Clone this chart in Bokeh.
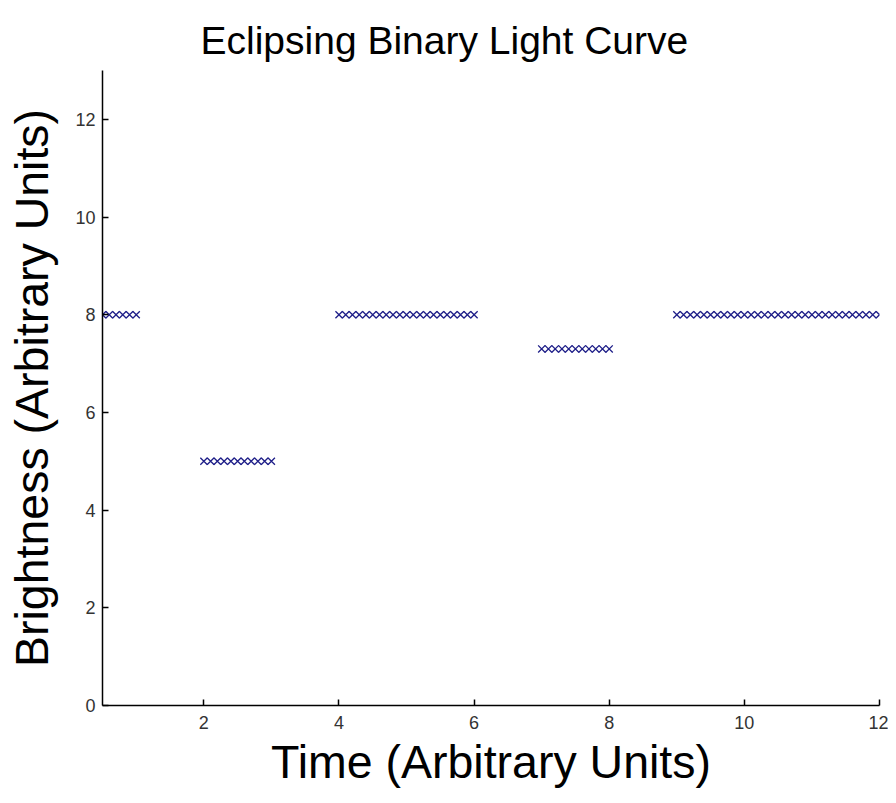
from bokeh.plotting import figure
from bokeh.models import FixedTicker, Range1d, ColumnDataSource
from bokeh.embed import file_html
from bokeh.resources import INLINE

# Data (time, brightness)
time_1 = [0.5, 0.6, 0.7, 0.8, 0.9, 1.0]
bright_1 = [8, 8, 8, 8, 8, 8]
time_2 = [2.0, 2.1, 2.2, 2.3, 2.4, 2.5, 2.6, 2.7, 2.8, 2.9, 3.0]
bright_2 = [5, 5, 5, 5, 5, 5, 5, 5, 5, 5, 5]
time_3 = [4.0, 4.1, 4.2, 4.3, 4.4, 4.5, 4.6, 4.7, 4.8, 4.9, 5.0,
          5.1, 5.2, 5.3, 5.4, 5.5, 5.6, 5.7, 5.8, 5.9, 6.0]
bright_3 = [8, 8, 8, 8, 8, 8, 8, 8, 8, 8, 8,
            8, 8, 8, 8, 8, 8, 8, 8, 8, 8]
time_4 = [7.0, 7.1, 7.2, 7.3, 7.4, 7.5, 7.6, 7.7, 7.8, 7.9, 8.0]
bright_4 = [7.3, 7.3, 7.3, 7.3, 7.3, 7.3, 7.3, 7.3, 7.3, 7.3, 7.3]
time_5 = [9.0, 9.1, 9.2, 9.3, 9.4, 9.5, 9.6, 9.7, 9.8, 9.9, 10.0,
          10.1, 10.2, 10.3, 10.4, 10.5, 10.6, 10.7, 10.8, 10.9, 11.0,
          11.1, 11.2, 11.3, 11.4, 11.5, 11.6, 11.7, 11.8, 11.9, 12.0]
bright_5 = [8, 8, 8, 8, 8, 8, 8, 8, 8, 8, 8,
            8, 8, 8, 8, 8, 8, 8, 8, 8, 8,
            8, 8, 8, 8, 8, 8, 8, 8, 8, 8]

x_ticks = [2, 4, 6, 8, 10, 12]
y_ticks = [0, 2, 4, 6, 8, 10, 12]
title_text = "Eclipsing Binary Light Curve"
x_label = "Time (Arbitrary Units)"
y_label = "Brightness (Arbitrary Units)"

times = time_1 + time_2 + time_3 + time_4 + time_5
brights = bright_1 + bright_2 + bright_3 + bright_4 + bright_5
src = ColumnDataSource(dict(t=times, b=brights))

FONT = "Liberation Sans"

p = figure(width=888, height=795, output_backend="svg", toolbar_location=None,
           x_range=Range1d(0.5, 12), y_range=Range1d(0, 13),
           min_border_left=102, min_border_right=9, min_border_top=70,
           min_border_bottom=90, title=title_text)

p.scatter("t", "b", source=src, marker="x", size=10, line_color="#1e1e88",
          line_width=1.3)

p.title.text_font = FONT
p.title.text_font_size = "39px"
p.title.text_font_style = "normal"
p.title.text_color = "#000000"
p.title.align = "left"
p.title.offset = 98
p.title.standoff = 18

p.outline_line_color = None
p.xgrid.visible = False
p.ygrid.visible = False
p.background_fill_color = "white"
p.border_fill_color = "white"

for ax in (p.xaxis[0], p.yaxis[0]):
    ax.axis_line_color = "black"
    ax.axis_line_width = 1.5
    ax.major_tick_in = 6
    ax.major_tick_out = 0
    ax.major_tick_line_color = "black"
    ax.major_tick_line_width = 1.5
    ax.minor_tick_line_color = None
    ax.major_label_text_font = FONT
    ax.major_label_text_font_size = "18px"
    ax.major_label_text_color = "#333333"
    ax.axis_label_text_font = FONT
    ax.axis_label_text_font_size = "46.5px"
    ax.axis_label_text_font_style = "normal"
    ax.axis_label_text_color = "#000000"

p.xaxis.ticker = FixedTicker(ticks=x_ticks)
p.yaxis.ticker = FixedTicker(ticks=y_ticks)
p.xaxis.axis_label = x_label
p.yaxis.axis_label = y_label
p.xaxis.major_label_standoff = 10
p.yaxis.major_label_standoff = 7
p.xaxis.axis_label_standoff = 4
p.yaxis.axis_label_standoff = 14

open("out.html", "w").write(file_html(p, INLINE))
